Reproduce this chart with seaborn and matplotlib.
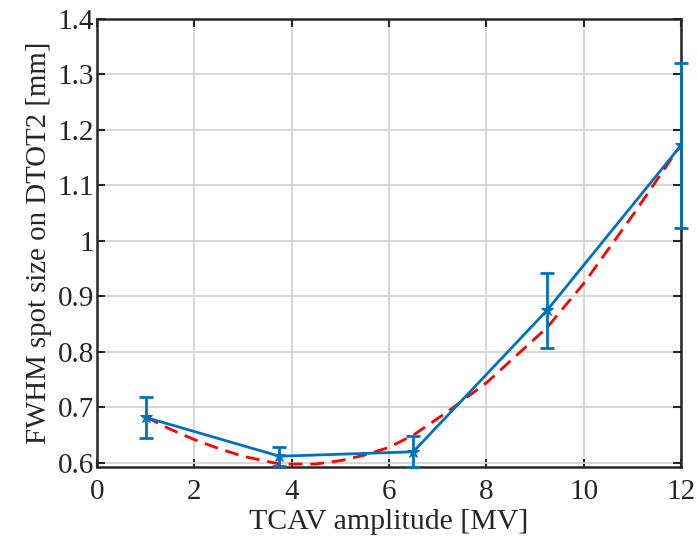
import numpy as np
import pandas as pd
import matplotlib
matplotlib.use('Agg')
import matplotlib.pyplot as plt
import seaborn as sns

sns.set_theme(style='whitegrid')
plt.rcParams['font.family'] = ['Liberation Serif', 'DejaVu Serif']
plt.rcParams['mathtext.fontset'] = 'stix'

# Measured spot sizes
amplitude = [1.0, 3.75, 6.5, 9.25, 12.0]
fwhm = [0.682, 0.612, 0.620, 0.875, 1.172]
fwhm_err = [0.037, 0.017, 0.028, 0.068, 0.149]

# Fit curve
fit_x = [1.0, 1.5, 2.0, 2.5, 3.0, 3.75, 4.5, 5.0, 5.5, 6.0, 6.5, 7.2, 8.0, 9.25, 10.0, 11.0, 12.0]
fit_y = [0.683, 0.661, 0.642, 0.626, 0.612, 0.598, 0.598, 0.604, 0.614, 0.628, 0.650,
         0.692, 0.744, 0.844, 0.923, 1.045, 1.173]

meas = pd.DataFrame({'amp': amplitude, 'fwhm': fwhm})
fit = pd.DataFrame({'amp': fit_x, 'fwhm': fit_y})

blue = '#0072BD'

fig = plt.figure(figsize=(6.97, 5.39), dpi=100)
ax = fig.add_axes([0.139, 0.134, 0.838, 0.831])

# Fit
sns.lineplot(data=fit, x='amp', y='fwhm', ax=ax, color='red', lw=2.0,
             linestyle=(0, (5, 2.8)), zorder=3)

# Measurement
sns.lineplot(data=meas, x='amp', y='fwhm', ax=ax, color=blue, lw=2.0,
             marker='*', markersize=9, markeredgecolor=blue, zorder=4)
ax.errorbar(amplitude, fwhm, yerr=fwhm_err, fmt='none', ecolor=blue,
            elinewidth=2.0, capsize=5, capthick=2.0, zorder=4, clip_on=False)

ax.set_xlim(0, 12)
ax.set_ylim(0.593, 1.4)
ax.set_xticks(np.arange(0, 13, 2))
ax.set_yticks(np.arange(0.6, 1.41, 0.1))
ax.set_yticklabels(['0.6', '0.7', '0.8', '0.9', '1', '1.1', '1.2', '1.3', '1.4'])

ax.set_xlabel('TCAV amplitude [MV]', fontsize=21.5, labelpad=3, color='#262626')
ax.set_ylabel('FWHM spot size on DTOT2 [mm]', fontsize=20.8, labelpad=4, color='#262626')

ax.grid(True, color='#d4d4d4', lw=1.3)
ax.tick_params(axis='both', labelsize=21, direction='in', length=6, width=1.5,
               color='#262626', labelcolor='#262626', top=True, right=True,
               bottom=True, left=True)
ax.tick_params(axis='x', pad=9)
ax.tick_params(axis='y', pad=2)
for side in ax.spines.values():
    side.set_color('#262626')
    side.set_linewidth(1.8)
ax.set_facecolor('white')
ax.set_axisbelow(True)

plt.savefig('out.png', dpi=100)
